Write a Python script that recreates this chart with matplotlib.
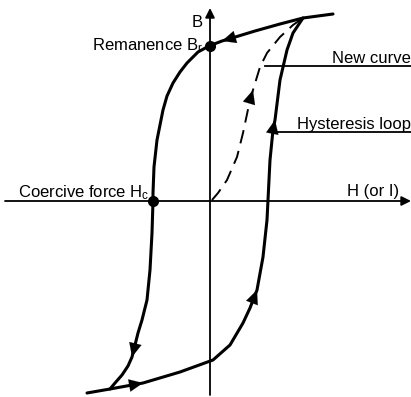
import matplotlib.pyplot as plt

plt.rcParams['font.family'] = ['Liberation Sans', 'DejaVu Sans']
plt.rcParams['mathtext.fontset'] = 'custom'
plt.rcParams['mathtext.rm'] = 'Liberation Sans'
plt.rcParams['mathtext.it'] = 'Liberation Sans'

# Descending branch of the loop (from saturation top-right to bottom-left)
desc_h = [12.3, 10.8, 9.3, 7.0, 4.5, 2.2, 1.2, -0.1, -1.2, -2.3, -3.0, -3.7, -4.3, -4.7,
          -5.3, -5.6, -5.7, -5.7, -5.8, -6.0, -6.3, -6.8, -7.2, -7.8, -8.2, -8.8, -9.5, -10.0]
desc_b = [18.7, 18.5, 18.3, 17.7, 17.0, 16.3, 16.0, 15.5, 14.9, 13.8, 12.9, 11.8, 10.5, 9.1,
          6.1, 3.4, 0.8, 0.0, -3.2, -6.9, -9.9, -11.9, -13.2, -15.6, -16.5, -17.4, -18.2, -18.8]

# Ascending branch (bottom-left up to the top)
asc_h = [-12.3, -10.0, -6.7, -3.0, 0.3, 2.0, 3.3, 4.0, 4.7, 5.3, 5.7, 5.8, 6.0, 6.3, 6.5,
         7.0, 7.7, 8.3, 9.3]
asc_b = [-19.2, -18.8, -18.2, -17.1, -15.9, -14.4, -12.2, -10.7, -8.9, -5.6, -1.9, 0.1, 4.1,
         7.1, 8.1, 12.1, 15.1, 16.8, 18.3]

# Initial magnetisation ("new") curve
new_h = [0.2, 0.8, 1.7, 2.7, 3.3, 4.0, 4.3, 5.0, 5.7, 7.0, 8.3, 9.3]
new_b = [0.1, 0.8, 2.1, 4.4, 6.8, 10.1, 11.1, 13.4, 14.8, 16.4, 17.6, 18.3]

# arrow positions (segment index along each curve)
desc_arrows = [5, 22]
asc_arrows = [1, 7, 13]
new_arrows = [5]

Br = 15.5
Hc = -5.7

fig = plt.figure(figsize=(4.11, 3.97), dpi=100)
ax = fig.add_axes([0, 0, 1, 1])
ax.set_xlim(-21.0, 20.1)
ax.set_ylim(-19.6, 20.1)
ax.axis('off')

# axes with arrows
ax.annotate('', xy=(20.1, 0), xytext=(-20.5, 0),
            arrowprops=dict(arrowstyle='-|>', lw=1.3, color='black', mutation_scale=14,
                            shrinkA=0, shrinkB=0))
ax.annotate('', xy=(0, 19.3), xytext=(0, -19.4),
            arrowprops=dict(arrowstyle='-|>', lw=1.3, color='black', mutation_scale=14,
                            shrinkA=0, shrinkB=0))

ax.plot(desc_h, desc_b, color='black', lw=2.2, solid_capstyle='round')
ax.plot(asc_h, asc_b, color='black', lw=2.2, solid_capstyle='round')
ax.plot(new_h, new_b, color='black', lw=1.4, dashes=(7, 4))


def arrows(h, b, idx):
    for i in idx:
        ax.annotate('', xy=(h[i + 1], b[i + 1]), xytext=(h[i], b[i]),
                    arrowprops=dict(arrowstyle='-|>,head_length=0.55,head_width=0.25',
                                    lw=0.1, color='black',
                                    mutation_scale=18, shrinkA=0, shrinkB=0))


arrows(desc_h, desc_b, desc_arrows)
arrows(asc_h, asc_b, asc_arrows)
arrows(new_h, new_b, new_arrows)

# Remanence and coercive-force points
ax.plot([0, Hc], [Br, 0], 'o', color='black', ms=7)

fs = 12
ax.text(-0.7, 17.4, 'B', fontsize=fs, ha='right', va='baseline')
ax.text(-0.7, 15.1, r'Remanence B$_\mathrm{r}$', fontsize=fs, ha='right', va='baseline')
ax.text(-19.2, 0.4, r'Coercive force H$_\mathrm{c}$', fontsize=fs, ha='left', va='baseline')
ax.text(13.7, 0.5, 'H (or I)', fontsize=fs, ha='left', va='baseline')

# labels with leader lines
ax.text(12.2, 13.8, 'New curve', fontsize=fs, ha='left', va='baseline')
ax.plot([5.5, 20.1], [13.5, 13.5], color='black', lw=1.3)
ax.text(8.7, 7.2, 'Hysteresis loop', fontsize=fs, ha='left', va='baseline')
ax.plot([6.8, 20.1], [6.9, 6.9], color='black', lw=1.3)

fig.savefig('out.png', dpi=100, facecolor='white')
